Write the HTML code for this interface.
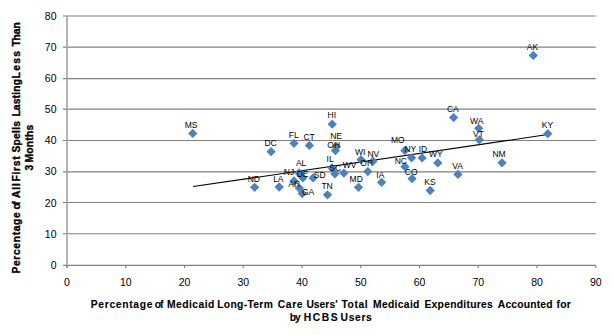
<!DOCTYPE html><html><head><meta charset="utf-8"><style>html,body{margin:0;padding:0;background:#fff;width:614px;height:335px;overflow:hidden}svg{display:block}text{font-family:"Liberation Sans",sans-serif}</style></head><body>
<svg width="614" height="335" viewBox="0 0 614 335">
<rect width="614" height="335" fill="#fff"/>
<line x1="63.00" y1="265.30" x2="595.75" y2="265.30" stroke="#808080" stroke-width="1.15"/>
<text x="56.5" y="268.70" font-size="10.5" text-anchor="end" fill="#000">0</text>
<line x1="63.00" y1="233.70" x2="595.75" y2="233.70" stroke="#808080" stroke-width="1.15"/>
<text x="56.5" y="237.60" font-size="10.5" text-anchor="end" fill="#000">10</text>
<line x1="63.00" y1="202.50" x2="595.75" y2="202.50" stroke="#808080" stroke-width="1.15"/>
<text x="56.5" y="206.50" font-size="10.5" text-anchor="end" fill="#000">20</text>
<line x1="63.00" y1="171.90" x2="595.75" y2="171.90" stroke="#808080" stroke-width="1.15"/>
<text x="56.5" y="175.40" font-size="10.5" text-anchor="end" fill="#000">30</text>
<line x1="63.00" y1="140.45" x2="595.75" y2="140.45" stroke="#808080" stroke-width="1.15"/>
<text x="56.5" y="144.30" font-size="10.5" text-anchor="end" fill="#000">40</text>
<line x1="63.00" y1="109.05" x2="595.75" y2="109.05" stroke="#808080" stroke-width="1.15"/>
<text x="56.5" y="113.20" font-size="10.5" text-anchor="end" fill="#000">50</text>
<line x1="63.00" y1="78.60" x2="595.75" y2="78.60" stroke="#808080" stroke-width="1.15"/>
<text x="56.5" y="82.10" font-size="10.5" text-anchor="end" fill="#000">60</text>
<line x1="63.00" y1="47.05" x2="595.75" y2="47.05" stroke="#808080" stroke-width="1.15"/>
<text x="56.5" y="51.00" font-size="10.5" text-anchor="end" fill="#000">70</text>
<line x1="63.00" y1="15.95" x2="595.75" y2="15.95" stroke="#808080" stroke-width="1.15"/>
<text x="56.5" y="19.90" font-size="10.5" text-anchor="end" fill="#000">80</text>
<line x1="67.00" y1="15.95" x2="67.00" y2="268.00" stroke="#a0a0a0" stroke-width="1.6"/>
<line x1="67.00" y1="265.30" x2="67.00" y2="268.00" stroke="#808080" stroke-width="1.15"/>
<text x="67.00" y="285.6" font-size="10.5" text-anchor="middle" fill="#000">0</text>
<line x1="125.75" y1="265.30" x2="125.75" y2="268.00" stroke="#808080" stroke-width="1.15"/>
<text x="125.75" y="285.6" font-size="10.5" text-anchor="middle" fill="#000">10</text>
<line x1="184.50" y1="265.30" x2="184.50" y2="268.00" stroke="#808080" stroke-width="1.15"/>
<text x="184.50" y="285.6" font-size="10.5" text-anchor="middle" fill="#000">20</text>
<line x1="243.25" y1="265.30" x2="243.25" y2="268.00" stroke="#808080" stroke-width="1.15"/>
<text x="243.25" y="285.6" font-size="10.5" text-anchor="middle" fill="#000">30</text>
<line x1="302.00" y1="265.30" x2="302.00" y2="268.00" stroke="#808080" stroke-width="1.15"/>
<text x="302.00" y="285.6" font-size="10.5" text-anchor="middle" fill="#000">40</text>
<line x1="360.75" y1="265.30" x2="360.75" y2="268.00" stroke="#808080" stroke-width="1.15"/>
<text x="360.75" y="285.6" font-size="10.5" text-anchor="middle" fill="#000">50</text>
<line x1="419.50" y1="265.30" x2="419.50" y2="268.00" stroke="#808080" stroke-width="1.15"/>
<text x="419.50" y="285.6" font-size="10.5" text-anchor="middle" fill="#000">60</text>
<line x1="478.25" y1="265.30" x2="478.25" y2="268.00" stroke="#808080" stroke-width="1.15"/>
<text x="478.25" y="285.6" font-size="10.5" text-anchor="middle" fill="#000">70</text>
<line x1="537.00" y1="265.30" x2="537.00" y2="268.00" stroke="#808080" stroke-width="1.15"/>
<text x="537.00" y="285.6" font-size="10.5" text-anchor="middle" fill="#000">80</text>
<line x1="595.75" y1="265.30" x2="595.75" y2="268.00" stroke="#808080" stroke-width="1.15"/>
<text x="595.75" y="285.6" font-size="10.5" text-anchor="middle" fill="#000">90</text>
<line x1="193.1" y1="186.6" x2="547.6" y2="134.6" stroke="#000" stroke-width="1.05"/>
<path d="M192.80 128.75L197.45 133.40L192.80 138.05L188.15 133.40Z" fill="#4f81bd"/>
<path d="M271.10 147.05L275.75 151.70L271.10 156.35L266.45 151.70Z" fill="#4f81bd"/>
<path d="M294.00 138.65L298.65 143.30L294.00 147.95L289.35 143.30Z" fill="#4f81bd"/>
<path d="M254.60 182.65L259.25 187.30L254.60 191.95L249.95 187.30Z" fill="#4f81bd"/>
<path d="M279.20 182.35L283.85 187.00L279.20 191.65L274.55 187.00Z" fill="#4f81bd"/>
<path d="M309.40 140.75L314.05 145.40L309.40 150.05L304.75 145.40Z" fill="#4f81bd"/>
<path d="M332.20 119.55L336.85 124.20L332.20 128.85L327.55 124.20Z" fill="#4f81bd"/>
<path d="M336.30 141.85L340.95 146.50L336.30 151.15L331.65 146.50Z" fill="#4f81bd"/>
<path d="M335.50 145.85L340.15 150.50L335.50 155.15L330.85 150.50Z" fill="#4f81bd"/>
<path d="M299.00 168.35L303.65 173.00L299.00 177.65L294.35 173.00Z" fill="#4f81bd"/>
<path d="M294.00 176.35L298.65 181.00L294.00 185.65L289.35 181.00Z" fill="#4f81bd"/>
<path d="M302.90 173.25L307.55 177.90L302.90 182.55L298.25 177.90Z" fill="#4f81bd"/>
<path d="M313.10 173.25L317.75 177.90L313.10 182.55L308.45 177.90Z" fill="#4f81bd"/>
<path d="M299.30 183.45L303.95 188.10L299.30 192.75L294.65 188.10Z" fill="#4f81bd"/>
<path d="M302.30 188.85L306.95 193.50L302.30 198.15L297.65 193.50Z" fill="#4f81bd"/>
<path d="M327.50 190.15L332.15 194.80L327.50 199.45L322.85 194.80Z" fill="#4f81bd"/>
<path d="M332.00 163.25L336.65 167.90L332.00 172.55L327.35 167.90Z" fill="#4f81bd"/>
<path d="M334.90 169.25L339.55 173.90L334.90 178.55L330.25 173.90Z" fill="#4f81bd"/>
<path d="M343.90 168.45L348.55 173.10L343.90 177.75L339.25 173.10Z" fill="#4f81bd"/>
<path d="M361.00 155.05L365.65 159.70L361.00 164.35L356.35 159.70Z" fill="#4f81bd"/>
<path d="M373.00 156.55L377.65 161.20L373.00 165.85L368.35 161.20Z" fill="#4f81bd"/>
<path d="M367.80 166.95L372.45 171.60L367.80 176.25L363.15 171.60Z" fill="#4f81bd"/>
<path d="M358.50 182.65L363.15 187.30L358.50 191.95L353.85 187.30Z" fill="#4f81bd"/>
<path d="M381.60 177.65L386.25 182.30L381.60 186.95L376.95 182.30Z" fill="#4f81bd"/>
<path d="M404.90 145.95L409.55 150.60L404.90 155.25L400.25 150.60Z" fill="#4f81bd"/>
<path d="M411.60 153.15L416.25 157.80L411.60 162.45L406.95 157.80Z" fill="#4f81bd"/>
<path d="M422.10 153.25L426.75 157.90L422.10 162.55L417.45 157.90Z" fill="#4f81bd"/>
<path d="M404.90 162.05L409.55 166.70L404.90 171.35L400.25 166.70Z" fill="#4f81bd"/>
<path d="M412.10 174.05L416.75 178.70L412.10 183.35L407.45 178.70Z" fill="#4f81bd"/>
<path d="M430.20 185.85L434.85 190.50L430.20 195.15L425.55 190.50Z" fill="#4f81bd"/>
<path d="M437.80 158.25L442.45 162.90L437.80 167.55L433.15 162.90Z" fill="#4f81bd"/>
<path d="M458.00 169.75L462.65 174.40L458.00 179.05L453.35 174.40Z" fill="#4f81bd"/>
<path d="M453.60 112.95L458.25 117.60L453.60 122.25L448.95 117.60Z" fill="#4f81bd"/>
<path d="M478.70 123.65L483.35 128.30L478.70 132.95L474.05 128.30Z" fill="#4f81bd"/>
<path d="M479.30 135.15L483.95 139.80L479.30 144.45L474.65 139.80Z" fill="#4f81bd"/>
<path d="M502.00 158.15L506.65 162.80L502.00 167.45L497.35 162.80Z" fill="#4f81bd"/>
<path d="M547.80 129.05L552.45 133.70L547.80 138.35L543.15 133.70Z" fill="#4f81bd"/>
<path d="M533.30 50.75L537.95 55.40L533.30 60.05L528.65 55.40Z" fill="#4f81bd"/>
<text x="191.15" y="127.70" font-size="8.5" text-anchor="middle" fill="#000">MS</text>
<text x="270.60" y="145.90" font-size="8.5" text-anchor="middle" fill="#000">DC</text>
<text x="293.80" y="138.10" font-size="8.5" text-anchor="middle" fill="#000">FL</text>
<text x="253.80" y="182.00" font-size="8.5" text-anchor="middle" fill="#000">ND</text>
<text x="278.35" y="182.00" font-size="8.5" text-anchor="middle" fill="#000">LA</text>
<text x="309.10" y="139.90" font-size="8.5" text-anchor="middle" fill="#000">CT</text>
<text x="331.80" y="117.80" font-size="8.5" text-anchor="middle" fill="#000">HI</text>
<text x="336.10" y="138.60" font-size="8.5" text-anchor="middle" fill="#000">NE</text>
<text x="333.70" y="148.00" font-size="8.5" text-anchor="middle" fill="#000">OH</text>
<text x="301.15" y="166.00" font-size="8.5" text-anchor="middle" fill="#000">AL</text>
<text x="289.05" y="174.60" font-size="8.5" text-anchor="middle" fill="#000">NJ</text>
<text x="302.65" y="176.70" font-size="8.5" text-anchor="middle" fill="#000">DE</text>
<text x="319.65" y="177.90" font-size="8.5" text-anchor="middle" fill="#000">SD</text>
<text x="294.25" y="186.60" font-size="8.5" text-anchor="middle" fill="#000">AR</text>
<text x="308.05" y="194.80" font-size="8.5" text-anchor="middle" fill="#000">GA</text>
<text x="327.05" y="188.80" font-size="8.5" text-anchor="middle" fill="#000">TN</text>
<text x="330.10" y="162.00" font-size="8.5" text-anchor="middle" fill="#000">IL</text>
<text x="335.25" y="170.90" font-size="8.5" text-anchor="middle" fill="#000">SC</text>
<text x="349.50" y="167.90" font-size="8.5" text-anchor="middle" fill="#000">WV</text>
<text x="360.30" y="154.50" font-size="8.5" text-anchor="middle" fill="#000">WI</text>
<text x="373.40" y="156.70" font-size="8.5" text-anchor="middle" fill="#000">NV</text>
<text x="366.65" y="165.70" font-size="8.5" text-anchor="middle" fill="#000">OR</text>
<text x="356.20" y="182.10" font-size="8.5" text-anchor="middle" fill="#000">MD</text>
<text x="380.30" y="177.50" font-size="8.5" text-anchor="middle" fill="#000">IA</text>
<text x="397.75" y="142.90" font-size="8.5" text-anchor="middle" fill="#000">MO</text>
<text x="410.30" y="152.40" font-size="8.5" text-anchor="middle" fill="#000">NY</text>
<text x="422.95" y="151.60" font-size="8.5" text-anchor="middle" fill="#000">ID</text>
<text x="400.85" y="164.00" font-size="8.5" text-anchor="middle" fill="#000">NC</text>
<text x="411.20" y="174.80" font-size="8.5" text-anchor="middle" fill="#000">CO</text>
<text x="430.00" y="184.80" font-size="8.5" text-anchor="middle" fill="#000">KS</text>
<text x="435.95" y="157.00" font-size="8.5" text-anchor="middle" fill="#000">WY</text>
<text x="457.65" y="169.00" font-size="8.5" text-anchor="middle" fill="#000">VA</text>
<text x="452.85" y="112.20" font-size="8.5" text-anchor="middle" fill="#000">CA</text>
<text x="476.75" y="124.20" font-size="8.5" text-anchor="middle" fill="#000">WA</text>
<text x="478.35" y="136.70" font-size="8.5" text-anchor="middle" fill="#000">VT</text>
<text x="499.10" y="156.90" font-size="8.5" text-anchor="middle" fill="#000">NM</text>
<text x="547.50" y="127.90" font-size="8.5" text-anchor="middle" fill="#000">KY</text>
<text x="532.40" y="49.70" font-size="8.5" text-anchor="middle" fill="#000">AK</text>
<g transform="translate(0,307.9)" font-size="10.3" font-weight="bold" fill="#000" stroke="#000" stroke-width="0.1"><text transform="translate(90.80,0) scale(1.0,1)" x="0" y="0" textLength="61.60" lengthAdjust="spacing">Percentage</text><text transform="translate(154.80,0) scale(1.0,1)" x="0" y="0" textLength="8.60" lengthAdjust="spacing">of</text><text transform="translate(167.00,0) scale(1.0,1)" x="0" y="0" textLength="47.40" lengthAdjust="spacing">Medicaid</text><text transform="translate(217.20,0) scale(1.0,1)" x="0" y="0" textLength="55.60" lengthAdjust="spacing">Long-Term</text><text transform="translate(277.80,0) scale(1.0,1)" x="0" y="0" textLength="24.80" lengthAdjust="spacing">Care</text><text transform="translate(306.40,0) scale(1.0,1)" x="0" y="0" textLength="31.20" lengthAdjust="spacing">Users'</text><text transform="translate(341.40,0) scale(1.0,1)" x="0" y="0" textLength="26.20" lengthAdjust="spacing">Total</text><text transform="translate(373.00,0) scale(1.0,1)" x="0" y="0" textLength="46.40" lengthAdjust="spacing">Medicaid</text><text transform="translate(424.40,0) scale(1.0,1)" x="0" y="0" textLength="68.40" lengthAdjust="spacing">Expenditures</text><text transform="translate(497.80,0) scale(1.0,1)" x="0" y="0" textLength="54.80" lengthAdjust="spacing">Accounted</text><text transform="translate(556.40,0) scale(1.0,1)" x="0" y="0" textLength="14.40" lengthAdjust="spacing">for</text></g>
<g transform="translate(0,320.8)" font-size="10.3" font-weight="bold" fill="#000" stroke="#000" stroke-width="0.1"><text transform="translate(289.80,0) scale(1.0,1)" x="0" y="0" textLength="11.00" lengthAdjust="spacing">by</text><text transform="translate(303.80,0) scale(1.0,1)" x="0" y="0" textLength="33.80" lengthAdjust="spacing">HCBS</text><text transform="translate(340.60,0) scale(1.0,1)" x="0" y="0" textLength="31.20" lengthAdjust="spacing">Users</text></g>
<g transform="translate(20.0,400) rotate(-90)" font-size="10.3" font-weight="bold" fill="#000" stroke="#000" stroke-width="0.35"><text x="126.40" y="0" textLength="61.40" lengthAdjust="spacing">Percentage</text><text x="190.40" y="0" textLength="8.40" lengthAdjust="spacing">of</text><text x="202.00" y="0" textLength="15.00" lengthAdjust="spacing">All</text><text x="218.40" y="0" textLength="25.20" lengthAdjust="spacing">First</text><text x="247.40" y="0" textLength="31.60" lengthAdjust="spacing">Spells</text><text x="283.40" y="0" textLength="37.60" lengthAdjust="spacing">Lasting</text><text x="321.60" y="0" textLength="27.40" lengthAdjust="spacing">Less</text><text x="353.40" y="0" textLength="24.40" lengthAdjust="spacing">Than</text></g>
<g transform="translate(33.3,400) rotate(-90)" font-size="10.3" font-weight="bold" fill="#000" stroke="#000" stroke-width="0.35"><text x="229.60" y="0">3</text><text x="237.40" y="0" textLength="37.80" lengthAdjust="spacing">Months</text></g>
</svg></body></html>
